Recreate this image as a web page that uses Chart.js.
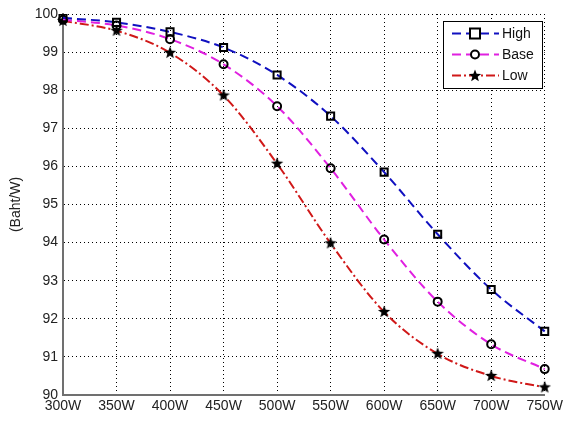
<!DOCTYPE html>
<html><head><meta charset="utf-8">
<script src="https://cdn.jsdelivr.net/npm/chart.js@4/dist/chart.umd.min.js"></script>
<style>html,body{margin:0;padding:0;background:#fff}#wrap{width:566px;height:421px}</style>
</head><body><div id="wrap"><canvas id="c" width="566" height="421"></canvas></div>
<script>
const categories = ['300W','350W','400W','450W','500W','550W','600W','650W','700W','750W'];
const highValues = [99.9, 99.78, 99.53, 99.12, 98.4, 97.32, 95.85, 94.22, 92.77, 91.67];
const baseValues = [99.85, 99.7, 99.34, 98.68, 97.58, 95.95, 94.08, 92.45, 91.33, 90.68];
const lowValues  = [99.82, 99.56, 98.98, 97.86, 96.07, 93.98, 92.18, 91.08, 90.5, 90.2];
const yTicks = [90,91,92,93,94,95,96,97,98,99,100];
const seriesNames = ['High','Base','Low'];

function starCanvas(){
  const c=document.createElement('canvas');c.width=14;c.height=14;
  const g=c.getContext('2d');g.fillStyle='#000';g.beginPath();
  const cx=7,cy=7,R=6.5,r=2.8;
  for(let i=0;i<10;i++){const a=-Math.PI/2+i*Math.PI/5;const rr=i%2?r:R;
    const x=cx+rr*Math.cos(a),y=cy+rr*Math.sin(a);i?g.lineTo(x,y):g.moveTo(x,y);}
  g.closePath();g.fill();return c;
}
const star=starCanvas();

const legendPlugin={id:'boxLegend',afterDraw(chart){
  const ctx=chart.ctx;const x0=443,y0=21,w=99,h=67;
  ctx.save();ctx.fillStyle='#fff';ctx.fillRect(x0,y0,w,h);
  ctx.strokeStyle='#000';ctx.lineWidth=1;ctx.strokeRect(x0+0.5,y0+0.5,w,h);
  const rows=[33,54,75];
  chart.data.datasets.forEach((ds,i)=>{
    const y=rows[i];ctx.save();ctx.strokeStyle=ds.borderColor;ctx.lineWidth=2;
    ctx.setLineDash(ds.borderDash||[]);ctx.beginPath();ctx.moveTo(452,y+0.5);ctx.lineTo(499,y+0.5);ctx.stroke();ctx.restore();
    ctx.save();ctx.setLineDash([]);
    if(ds.pointStyle==='rect'){ctx.fillStyle='#fff';ctx.fillRect(470,y-4.5,10,10);ctx.strokeStyle='#000';ctx.lineWidth=2;ctx.strokeRect(470,y-4.5,10,10);}
    else if(ds.pointStyle==='circle'){ctx.fillStyle='#fff';ctx.beginPath();ctx.arc(475,y+0.5,4,0,Math.PI*2);ctx.fill();ctx.strokeStyle='#000';ctx.lineWidth=2;ctx.stroke();}
    else{ctx.drawImage(star,468,y-6);}
    ctx.restore();
    ctx.fillStyle='#111';ctx.font='14px "Liberation Sans", Arial, sans-serif';ctx.textBaseline='middle';
    ctx.fillText(ds.label,502,y+1);
  });
  ctx.restore();
}};

new Chart(document.getElementById('c'),{
  type:'line',
  data:{labels:categories,datasets:[
    {label:seriesNames[0],data:highValues,borderColor:'#1010c0',borderWidth:2,borderDash:[9,5],pointStyle:'rect',pointRadius:5,pointBorderColor:'#000',pointBackgroundColor:'rgba(255,255,255,0)',pointBorderWidth:2,cubicInterpolationMode:'monotone'},
    {label:seriesNames[1],data:baseValues,borderColor:'#e020e0',borderWidth:2,borderDash:[9,5],pointStyle:'circle',pointRadius:4,pointBorderColor:'#000',pointBackgroundColor:'rgba(255,255,255,0)',pointBorderWidth:2,cubicInterpolationMode:'monotone'},
    {label:seriesNames[2],data:lowValues,borderColor:'#d01818',borderWidth:2,borderDash:[9,3,2,3],pointStyle:star,pointRadius:6,cubicInterpolationMode:'monotone'}
  ]},
  options:{
    responsive:false,animation:false,
    layout:{padding:{left:8,right:17,top:14,bottom:0}},
    plugins:{legend:{display:false},tooltip:{enabled:false}},
    scales:{
      x:{type:'category',offset:false,
        grid:{color:'#000',lineWidth:1,drawTicks:false},
        border:{display:true,color:'#707070',width:2,dash:[1,3]},
        ticks:{color:'#222',font:{family:'"Liberation Sans", Arial, sans-serif',size:14},padding:3,maxRotation:0,autoSkip:false},
        afterFit(s){s.height=26;}
      },
      y:{min:90,max:100,
        afterBuildTicks(s){s.ticks=yTicks.map(v=>({value:v}));},
        grid:{color:'#000',lineWidth:1,drawTicks:false},
        border:{display:true,color:'#707070',width:2,dash:[1,3]},
        title:{display:true,text:'(Baht/W)',color:'#222',font:{family:'"Liberation Sans", Arial, sans-serif',size:14},padding:{top:0,bottom:6}},
        ticks:{color:'#222',font:{family:'"Liberation Sans", Arial, sans-serif',size:14},padding:5},
        afterFit(s){s.width=55;}
      }
    }
  },
  plugins:[legendPlugin]
});
</script></body></html>
